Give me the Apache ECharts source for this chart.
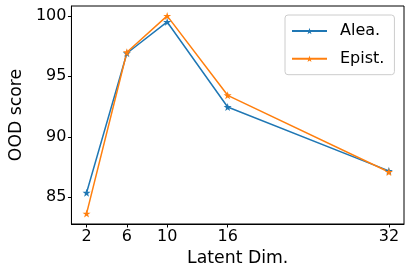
<!DOCTYPE html>
<html><head><meta charset="utf-8">
<script src="https://cdn.jsdelivr.net/npm/echarts@6/dist/echarts.min.js"></script>
<style>html,body{margin:0;padding:0;background:#fff}#c{width:410px;height:278px}</style>
</head><body><div id="c"></div>
<script>
const latentDims = [2, 6, 10, 16, 32];
const aleaScores = [85.36, 96.91, 99.5, 92.46, 87.18];
const epistScores = [83.64, 96.99, 100.0, 93.43, 87.08];
const xTicks = [2, 6, 10, 16, 32];
const yTicks = [85, 90, 95, 100];

const star = 'path://M50,0 L61.2,34.5 L97.6,34.5 L68.2,55.9 L79.4,90.5 L50,69.1 L20.6,90.5 L31.8,55.9 L2.4,34.5 L38.8,34.5 Z';
const font = 'DejaVu Sans';
const chart = echarts.init(document.getElementById('c'), null, {renderer: 'canvas'});
function mk(name, vals, color) {
  return {
    name: name, type: 'line',
    data: latentDims.map((d, i) => [d, vals[i]]),
    symbol: star, symbolSize: 8, showAllSymbol: true,
    lineStyle: {color: color, width: 1.5},
    itemStyle: {color: color},
    animation: false
  };
}
chart.setOption({
  animation: false,
  grid: {left: 69.5, right: 6, top: 6, bottom: 54, show: true, borderColor: '#000', borderWidth: 1, backgroundColor: 'transparent'},
  xAxis: {
    type: 'value', min: 0.5, max: 33.5,
    name: 'Latent Dim.', nameLocation: 'middle', nameGap: 21,
    nameTextStyle: {fontFamily: font, fontSize: 17.3, color: '#000'},
    axisLine: {show: true, lineStyle: {color: '#000', width: 1}},
    axisTick: {show: true, inside: false, length: 3.5, customValues: xTicks, lineStyle: {color: '#000'}},
    axisLabel: {customValues: xTicks, fontFamily: font, fontSize: 16, color: '#000', margin: 5},
    splitLine: {show: false}
  },
  yAxis: {
    type: 'value', min: 82.78, max: 100.82,
    name: 'OOD score', nameLocation: 'middle', nameGap: 46, nameRotate: 90,
    nameTextStyle: {fontFamily: font, fontSize: 17.3, color: '#000'},
    axisLine: {show: true, lineStyle: {color: '#000', width: 1}},
    axisTick: {show: true, inside: false, length: 3.5, customValues: yTicks, lineStyle: {color: '#000'}},
    axisLabel: {customValues: yTicks, fontFamily: font, fontSize: 16, color: '#000', margin: 5},
    splitLine: {show: false}
  },
  legend: {
    orient: 'vertical', left: 285, top: 15,
    padding: [7, 10, 7, 6],
    itemWidth: 35, itemHeight: 8, itemGap: 9.7,
    borderColor: '#ccc', borderWidth: 1, borderRadius: 3,
    textStyle: {fontFamily: font, fontSize: 16, color: '#000', lineHeight: 18, padding: [0, 0, 0, 8]},
    data: ['Alea.', 'Epist.']
  },
  series: [mk('Alea.', aleaScores, '#1f77b4'), mk('Epist.', epistScores, '#ff7f0e')]
});
</script></body></html>
